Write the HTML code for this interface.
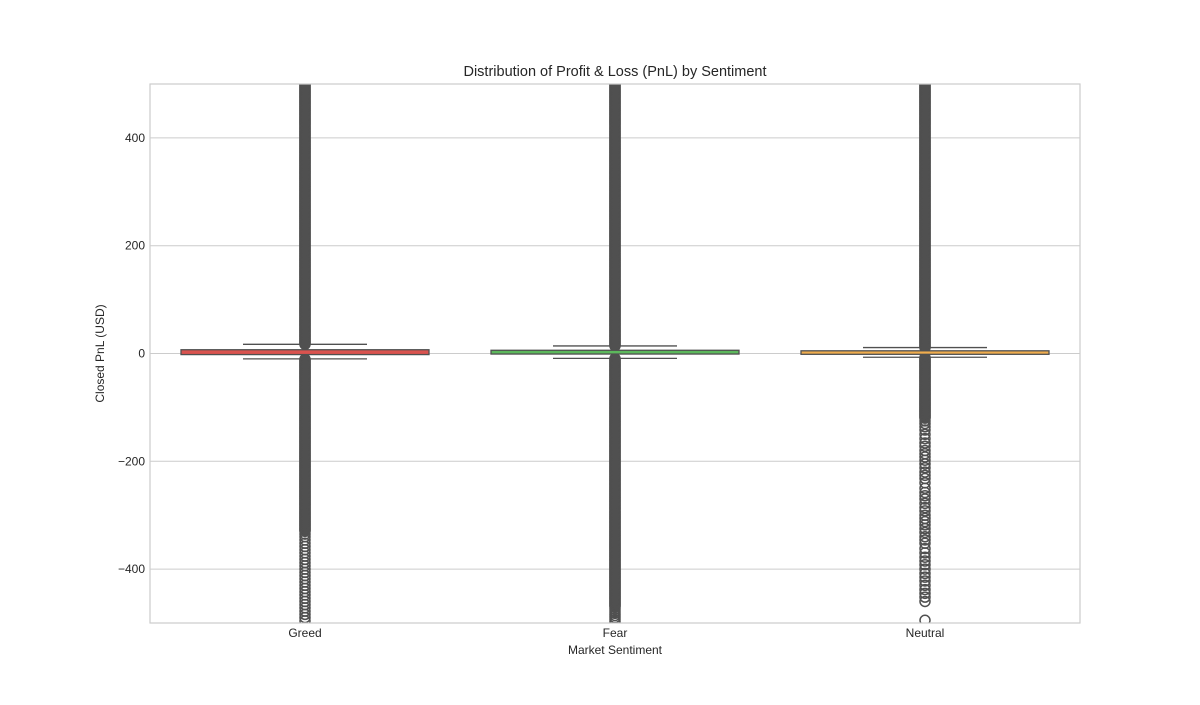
<!DOCTYPE html>
<html><head><meta charset="utf-8"><style>
body{margin:0;background:#fff;font-family:"Liberation Sans",sans-serif}
</style></head><body>
<svg id="c" width="1200" height="700" xmlns="http://www.w3.org/2000/svg" font-family="Liberation Sans, sans-serif"><defs><clipPath id="clip"><rect x="150" y="84" width="930" height="539"/></clipPath></defs></svg>
<script>
const categories=["Greed","Fear","Neutral"];
const colors=["#d9534f","#5cb85c","#f0ad4e"];
const q1=[-2,-1,-1.5];
const q3=[7,6,5];
const whiskerLow=[-10,-9,-7];
const whiskerHigh=[17,14,11];
const denseUp=[[17,510],[14,510],[11,510]];
const denseDown=[[-330,-10],[-470,-9],[-120,-7]];
const sparseDown=[
 [-335,-340,-346,-352,-358,-364,-370,-376,-382,-388,-394,-400,-406,-412,-418,-424,-430,-436,-442,-448,-454,-460,-466,-472,-478,-484,-490,-496],
 [-474,-478,-482,-486,-490,-494,-498],
 [-125,-130,-136,-142,-150,-158,-166,-172,-180,-186,-192,-198,-205,-212,-220,-226,-232,-240,-250,-258,-264,-270,-278,-286,-292,-300,-306,-312,-318,-325,-332,-340,-346,-352,-362,-370,-378,-385,-392,-400,-408,-415,-422,-430,-438,-445,-452,-460,-495]
];
const yTicks=[-400,-200,0,200,400];
const L=150,R=1080,T=84,B=623,yMin=-500,yMax=500;
const svg=document.getElementById('c');const NS="http://www.w3.org/2000/svg";
const y=v=>B-(v-yMin)/(yMax-yMin)*(B-T);
const band=(R-L)/categories.length;
const xc=i=>L+band*(i+0.5);
function mk(t,a,p){const e=document.createElementNS(NS,t);for(const k in a)e.setAttribute(k,a[k]);(p||svg).appendChild(e);return e;}
yTicks.forEach(t=>{
 const g=mk('line',{x1:L,x2:R,y1:y(t),y2:y(t),stroke:'#cccccc','stroke-width':1});
 
 
 const tx=mk('text',{x:L-5,y:y(t)+4,'text-anchor':'end','font-size':12,fill:'#262626'});tx.textContent=t<0?'\u2212'+(-t):t;
 
 
});
categories.forEach((c,i)=>{
 const g=mk('g',{'clip-path':'url(#clip)'});
 
 
 const cx=xc(i),bw=band*0.8;
 const pts=[];
 for(let v=denseUp[i][0];v<=denseUp[i][1];v+=1.5)pts.push(v);
 for(let v=denseDown[i][0];v<=denseDown[i][1];v+=1.5)pts.push(v);
 sparseDown[i].forEach(v=>pts.push(v));
 pts.forEach(v=>mk('circle',{cx:cx,cy:y(v),r:5,fill:'none',stroke:'#505050','stroke-width':1.5},g));
 mk('line',{x1:cx,x2:cx,y1:y(q3[i]),y2:y(whiskerHigh[i]),stroke:'#505050','stroke-width':1.3},g);
 mk('line',{x1:cx,x2:cx,y1:y(q1[i]),y2:y(whiskerLow[i]),stroke:'#505050','stroke-width':1.3},g);
 mk('line',{x1:cx-bw/4,x2:cx+bw/4,y1:y(whiskerHigh[i]),y2:y(whiskerHigh[i]),stroke:'#505050','stroke-width':1.3},g);
 mk('line',{x1:cx-bw/4,x2:cx+bw/4,y1:y(whiskerLow[i]),y2:y(whiskerLow[i]),stroke:'#505050','stroke-width':1.3},g);
 mk('rect',{x:cx-bw/2,y:y(q3[i]),width:bw,height:Math.max(2,y(q1[i])-y(q3[i])),fill:colors[i],stroke:'#505050','stroke-width':1.3},g);
 const tx=mk('text',{x:cx,y:B+14,'text-anchor':'middle','font-size':12,fill:'#262626'});tx.textContent=c;
 
 
});
const fr=mk('rect',{x:L,y:T,width:R-L,height:B-T,fill:'none',stroke:'#cccccc','stroke-width':1.2});


const ti=mk('text',{x:(L+R)/2,y:76,'text-anchor':'middle','font-size':14.5,fill:'#262626'});ti.textContent='Distribution of Profit & Loss (PnL) by Sentiment';


const xt=mk('text',{x:(L+R)/2,y:654,'text-anchor':'middle','font-size':12,fill:'#262626'});xt.textContent='Market Sentiment';


const yt=mk('text',{x:104,y:(T+B)/2,'text-anchor':'middle','font-size':12,fill:'#262626',transform:'rotate(-90 104 '+((T+B)/2)+')'});yt.textContent='Closed PnL (USD)';


</script>
</body></html>
